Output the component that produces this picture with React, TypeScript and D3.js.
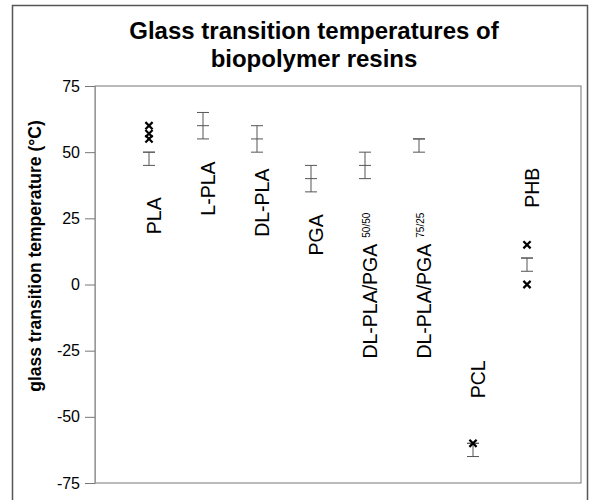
import React, { useEffect, useRef } from "react";
import * as d3 from "d3";

const categories = ["PLA", "L-PLA", "DL-PLA", "PGA", "DL-PLA/PGA", "DL-PLA/PGA", "PCL", "PHB"];
const superscripts = ["", "", "", "", "50/50", "75/25", "", ""];
const rangeLow = [45, 55, 50, 35, 40, 50, -65, 5];
const rangeHigh = [50, 65, 60, 45, 50, 55, -60, 10];
const rangeMid = [50, 60, 55, 40, 45, 55, -60, 10];
// where each rotated label starts (value on y axis)
const labelAt = [19, 26, 18, 11, -28, -28, -43, 29];
// individual measured values drawn as crosses
const pointCat = [0, 0, 0, 6, 7, 7];
const pointVal = [60, 57, 55, -60, 15, 0];
const yTicks = [-75, -50, -25, 0, 25, 50, 75];

const App = () => {
  const svgRef = useRef(null);
  const width = 589;
  const height = 500;

  useEffect(() => {
    const svg = d3.select(svgRef.current);
    svg.selectAll("*").remove();

    const left = 95;
    const right = 581;
    const top = 86;
    const bottom = 483;
    const font = "'Liberation Sans', Arial, sans-serif";

    const x = d3.scaleLinear().domain([0, 9]).range([left, right]);
    const y = d3.scaleLinear().domain([-75, 75]).range([bottom, top]);

    svg.style("font-family", font);

    // outer frame
    svg.append("rect")
      .attr("x", 12.5).attr("y", 5.5)
      .attr("width", 575).attr("height", 520)
      .attr("fill", "white")
      .attr("stroke", "#555")
      .attr("stroke-width", 1.5);

    // plot area
    svg.append("rect")
      .attr("x", left).attr("y", top)
      .attr("width", right - left).attr("height", bottom - top)
      .attr("fill", "white")
      .attr("stroke", "#777")
      .attr("stroke-width", 1);

    // y axis
    svg.append("g")
      .attr("transform", `translate(${left},0)`)
      .call(d3.axisLeft(y).tickValues(yTicks).tickSize(10).tickPadding(5).tickFormat((d) => String(d)))
      .call((g) => g.select(".domain").attr("stroke", "#999"))
      .call((g) => g.selectAll(".tick line").attr("stroke", "#777"))
      .call((g) => g.selectAll(".tick text")
        .attr("fill", "#000")
        .style("font-size", "16px")
        .style("font-family", font));

    // title
    const title = svg.append("text")
      .attr("text-anchor", "middle")
      .attr("font-weight", "bold")
      .style("font-size", "24px");
    title.append("tspan").attr("x", 314).attr("y", 39).text("Glass transition temperatures of");
    title.append("tspan").attr("x", 314).attr("y", 67).text("biopolymer resins");

    // y title
    svg.append("text")
      .attr("transform", "translate(41,256) rotate(-90)")
      .attr("text-anchor", "middle")
      .attr("font-weight", "bold")
      .style("font-size", "17.5px")
      .text("glass transition temperature (°C)");

    // range bars
    const bars = svg.append("g").attr("stroke", "#555").attr("stroke-width", 1);
    categories.forEach((c, i) => {
      const cx = x(i + 1);
      bars.append("line").attr("x1", cx).attr("x2", cx)
        .attr("y1", y(rangeHigh[i])).attr("y2", y(rangeLow[i]));
      [rangeHigh[i], rangeMid[i], rangeLow[i]].forEach((v) => {
        bars.append("line")
          .attr("x1", cx - 6).attr("x2", cx + 6)
          .attr("y1", y(v)).attr("y2", y(v));
      });
    });

    // crosses
    const s = 3.6;
    const pts = svg.append("g").attr("stroke", "#000").attr("stroke-width", 2.2);
    pointVal.forEach((v, i) => {
      const px = x(pointCat[i] + 1);
      const py = y(v);
      pts.append("path")
        .attr("d", `M${px - s},${py - s}L${px + s},${py + s}M${px - s},${py + s}L${px + s},${py - s}`);
    });

    // category labels
    categories.forEach((c, i) => {
      const t = svg.append("text")
        .attr("transform", `translate(${x(i + 1) + 12},${y(labelAt[i])}) rotate(-90)`)
        .style("font-size", "19.5px")
        .text(c);
      if (superscripts[i]) {
        t.append("tspan")
          .attr("dx", 6)
          .attr("dy", -7)
          .style("font-size", "10px")
          .text(superscripts[i]);
      }
    });
  }, []);

  return (
    <svg
      ref={svgRef}
      width={width}
      height={height}
      viewBox={`0 0 ${width} ${height}`}
      style={{ position: "absolute", left: 0, top: 0, background: "white" }}
    ></svg>
  );
};

export default App;
